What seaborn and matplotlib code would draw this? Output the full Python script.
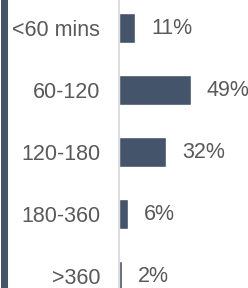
import matplotlib
matplotlib.use("Agg")
import matplotlib.pyplot as plt
from matplotlib.patches import Rectangle
import seaborn as sns

# data
categories = ["<60 mins", "60-120", "120-180", "180-360", ">360"]
shares = [11, 49, 32, 6, 2]
value_labels = ["11%", "49%", "32%", "6%", "2%"]

bar_color = "#44546a"
text_color = "#595959"

sns.set_style("white")
plt.rcParams["font.family"] = ["Liberation Sans", "DejaVu Sans"]

fig = plt.figure(figsize=(2.48, 2.88), dpi=100)
ax = fig.add_axes([119 / 248, 0, 129 / 248, 1])

sns.barplot(x=shares, y=categories, orient="h", color=bar_color,
            saturation=1, width=0.49, ax=ax)

ax.set_xlim(0, 88)
ax.set_ylim(4.19, -0.452)

ax.bar_label(ax.containers[0], labels=value_labels, padding=11.5,
             fontsize=15.5, color=text_color)

for s in ["top", "right", "bottom"]:
    ax.spines[s].set_visible(False)
ax.spines["left"].set_color("#d9d9d9")
ax.spines["left"].set_linewidth(1.3)
ax.set_xticks([])
ax.set_xlabel("")
ax.set_ylabel("")
ax.tick_params(axis="y", length=0, pad=13.5, labelsize=15.5, labelcolor=text_color)

# dark strip on the left edge
fig.add_artist(Rectangle((1 / 248, 0), 7 / 248, 1, transform=fig.transFigure,
                         color=bar_color, lw=0))

fig.savefig("out.png", dpi=100)
